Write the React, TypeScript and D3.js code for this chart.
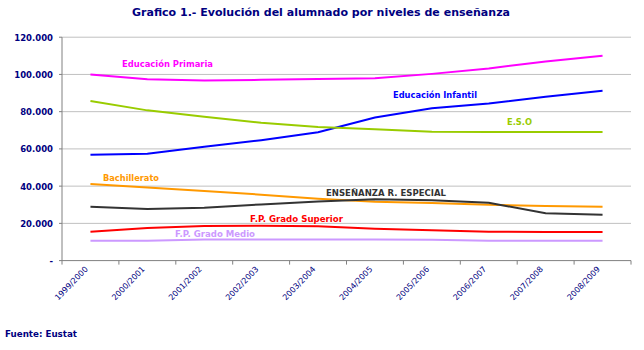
import React from "react";
import * as d3 from "d3";

const categories = ["1999/2000","2000/2001","2001/2002","2002/2003","2003/2004","2004/2005","2005/2006","2006/2007","2007/2008","2008/2009"];
const yTicks = [0, 20000, 40000, 60000, 80000, 100000, 120000];

const primaria = [100000, 97400, 96700, 97100, 97600, 98000, 100300, 103200, 107000, 110000];
const infantil = [56900, 57400, 61100, 64700, 68900, 76900, 81800, 84400, 88000, 91200];
const eso = [85700, 80700, 77300, 74000, 71800, 70500, 69200, 69100, 69100, 69100];
const bachillerato = [41100, 39300, 37400, 35400, 33200, 31600, 30900, 30000, 29300, 28900];
const especial = [28900, 27700, 28400, 30200, 31800, 32900, 32400, 31100, 25400, 24600];
const fpSuperior = [15500, 17500, 18600, 18700, 18400, 17100, 16300, 15500, 15400, 15400];
const fpMedio = [10700, 10700, 11400, 11400, 11400, 11300, 11200, 10700, 10700, 10700];

const series = [
  { name: "Educación Primaria", values: primaria, color: "#FF00FF", lx: 122, ly: 67 },
  { name: "Educación Infantil", values: infantil, color: "#0000FF", lx: 393, ly: 98 },
  { name: "E.S.O", values: eso, color: "#99CC00", lx: 507, ly: 125 },
  { name: "Bachillerato", values: bachillerato, color: "#FF9900", lx: 103, ly: 181 },
  { name: "ENSEÑANZA R. ESPECIAL", values: especial, color: "#333333", lx: 326, ly: 196 },
  { name: "F.P. Grado Superior", values: fpSuperior, color: "#FF0000", lx: 250, ly: 222 },
  { name: "F.P. Grado Medio", values: fpMedio, color: "#CC99FF", lx: 175, ly: 237 },
];

const labelWidths: Record<string, number> = {
  "Educación Primaria": 91,
  "Educación Infantil": 84,
  "E.S.O": 25,
  "Bachillerato": 56,
  "ENSEÑANZA R. ESPECIAL": 120,
  "F.P. Grado Superior": 93,
  "F.P. Grado Medio": 80,
};

export default function App() {
  const W = 644, H = 350;
  const left = 62, right = 631, top = 37.2, bottom = 260.6;
  const x = d3.scaleBand().domain(categories).range([left, right]);
  const y = d3.scaleLinear().domain([0, 120000]).range([bottom, top]);
  const line = d3.line<number>()
    .x((_, i) => (x(categories[i]) as number) + x.bandwidth() / 2)
    .y((d) => y(d));
  const fmt = (v: number) => v === 0 ? "-" : d3.format(",")(v).replace(/,/g, ".");
  const font = "'DejaVu Sans', Verdana, sans-serif";
  const navy = "#000080";
  return (
    <svg width={W} height={H} style={{ position: "absolute", left: 0, top: 0, background: "#fff" }} fontFamily={font}>
      <rect x={0} y={0} width={W} height={H} fill="#fff" />
      <text x={321} y={16} textAnchor="middle" fontSize={11} fontWeight="bold" fill={navy} textLength={378} lengthAdjust="spacingAndGlyphs">
        Grafico 1.- Evolución del alumnado por niveles de enseñanza
      </text>
      {yTicks.filter((t) => t > 0).map((t) => (
        <line key={"g" + t} x1={left} x2={right} y1={y(t)} y2={y(t)} stroke="#C0C0C0" strokeWidth={1} />
      ))}
      <line x1={left} x2={left} y1={top} y2={bottom} stroke="#808080" strokeWidth={1} />
      <line x1={left} x2={right} y1={bottom} y2={bottom} stroke="#808080" strokeWidth={1} />
      {yTicks.map((t) => (
        <g key={"yt" + t}>
          <line x1={left - 3} x2={left} y1={y(t)} y2={y(t)} stroke="#808080" />
          <text x={53} y={y(t) + 3.5} textAnchor="end" fontSize={8.5} fontWeight="bold" fill={navy}>{fmt(t)}</text>
        </g>
      ))}
      {categories.map((c, i) => (
        <line key={"xt" + i} x1={(x(c) as number)} x2={(x(c) as number)} y1={bottom} y2={bottom + 4} stroke="#808080" />
      ))}
      <line x1={right} x2={right} y1={bottom} y2={bottom + 4} stroke="#808080" />
      {categories.map((c) => {
        const cx = (x(c) as number) + x.bandwidth() / 2 - 2;
        const cy = bottom + 9;
        return (
          <text key={"xl" + c} x={cx} y={cy} textAnchor="end" fontSize={8} fill={navy} transform={`rotate(-46 ${cx} ${cy})`}>{c}</text>
        );
      })}
      {series.map((s) => (
        <path key={s.name} d={line(s.values) || ""} fill="none" stroke={s.color} strokeWidth={2} />
      ))}
      {series.map((s) => (
        <text key={"l" + s.name} x={s.lx} y={s.ly} fontSize={9} fontWeight="bold" fill={s.color} textLength={labelWidths[s.name]} lengthAdjust="spacingAndGlyphs">{s.name}</text>
      ))}
      <text x={5} y={337} fontSize={9} fontWeight="bold" fill={navy} textLength={72} lengthAdjust="spacingAndGlyphs">Fuente: Eustat</text>
    </svg>
  );
}
